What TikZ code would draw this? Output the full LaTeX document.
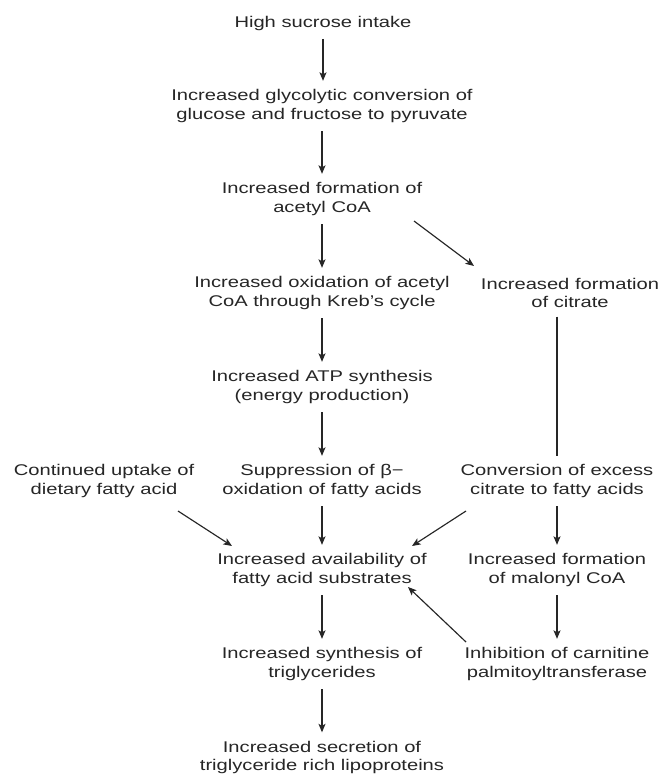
\documentclass[tikz,border=0pt]{standalone}
\usepackage{fontspec}
\setmainfont{Liberation Sans}[FakeStretch=1.30]
\usetikzlibrary{arrows.meta,calc}
\begin{document}
\begin{tikzpicture}[x=1pt,y=1pt,
  txt/.style={align=center, inner xsep=0pt, inner ysep=8.5pt,
    font=\fontsize{15.5}{18.5}\selectfont, text=black!85},
  arr/.style={-{Stealth[length=8.5pt,width=7pt,inset=2pt]}, line width=1.15pt, draw=black!85},
  ln/.style={line width=1.15pt, draw=black!85}]
\useasboundingbox[fill=white] (0,0) rectangle (662,-775);
\node[txt] (n1) at (323,-23) {High sucrose intake};
\node[txt] (n2) at (322,-106) {Increased glycolytic conversion of\\glucose and fructose to pyruvate};
\node[txt] (n3) at (322,-199) {Increased formation of\\acetyl CoA};
\node[txt] (n4) at (322,-293) {Increased oxidation of acetyl\\CoA through Kreb’s cycle};
\node[txt] (n5) at (570,-293) {Increased formation\\of citrate};
\node[txt] (n6) at (322,-387) {Increased ATP synthesis\\(energy production)};
\node[txt] (n7) at (104,-481) {Continued uptake of\\dietary fatty acid};
\node[txt] (n8) at (322,-481) {Suppression of β−\\oxidation of fatty acids};
\node[txt] (n9) at (557,-481) {Conversion of excess\\citrate to fatty acids};
\node[txt] (n10) at (322,-570) {Increased availability of\\fatty acid substrates};
\node[txt] (n11) at (557,-570) {Increased formation\\of malonyl CoA};
\node[txt] (n12) at (322,-664) {Increased synthesis of\\triglycerides};
\node[txt] (n13) at (557,-664) {Inhibition of carnitine\\palmitoyltransferase};
\node[txt] (n14) at (322,-757.5) {Increased secretion of\\triglyceride rich lipoproteins};
% main column
\draw[arr] (n1.south) -- (n1.south |- n2.north);
\draw[arr] (n2.south) -- (n2.south |- n3.north);
\draw[arr] (n3.south) -- (n3.south |- n4.north);
\draw[arr] (n4.south) -- (n4.south |- n6.north);
\draw[arr] (n6.south) -- (n6.south |- n8.north);
\draw[arr] (n8.south) -- (n8.south |- n10.north);
\draw[arr] (n10.south) -- (n10.south |- n12.north);
\draw[arr] (n12.south) -- (n12.south |- n14.north);
% right column
\draw[ln] (n9.north |- n5.south) -- (n9.north);
\draw[arr] (n9.south) -- (n9.south |- n11.north);
\draw[arr] (n11.south) -- (n11.south |- n13.north);
% diagonals
\draw[arr] ($(n3)+(92,-22)$) -- ($(n5)+(-96,27)$);
\draw[arr] ($(n7)+(74,-30)$) -- ($(n10)+(-90,24)$);
\draw[arr] ($(n9)+(-91,-30)$) -- ($(n10)+(90,24)$);
\draw[arr] ($(n13)+(-91,22)$) -- ($(n10)+(86,-17)$);
\end{tikzpicture}
\end{document}
